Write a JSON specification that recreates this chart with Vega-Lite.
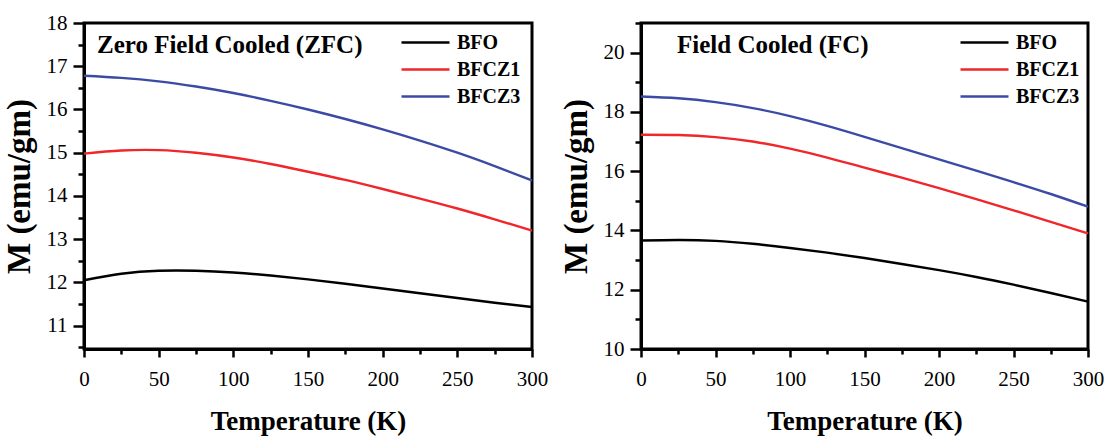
{
  "$schema": "https://vega.github.io/schema/vega-lite/v6.json",
  "background": "white",
  "padding": {"left": 1, "top": 10, "right": 0, "bottom": 0},
  "spacing": 8,
  "datasets": {
    "zfc": [
      {"T": 0, "M": 12.05, "Sample": "BFO"}, {"T": 25, "M": 12.2, "Sample": "BFO"}, {"T": 50, "M": 12.27, "Sample": "BFO"}, {"T": 75, "M": 12.27, "Sample": "BFO"}, {"T": 100, "M": 12.23, "Sample": "BFO"}, {"T": 125, "M": 12.16, "Sample": "BFO"}, {"T": 150, "M": 12.07, "Sample": "BFO"}, {"T": 175, "M": 11.97, "Sample": "BFO"}, {"T": 200, "M": 11.86, "Sample": "BFO"}, {"T": 225, "M": 11.75, "Sample": "BFO"}, {"T": 250, "M": 11.64, "Sample": "BFO"}, {"T": 275, "M": 11.53, "Sample": "BFO"}, {"T": 300, "M": 11.43, "Sample": "BFO"},
      {"T": 0, "M": 14.98, "Sample": "BFCZ1"}, {"T": 25, "M": 15.05, "Sample": "BFCZ1"}, {"T": 50, "M": 15.06, "Sample": "BFCZ1"}, {"T": 75, "M": 15.0, "Sample": "BFCZ1"}, {"T": 100, "M": 14.89, "Sample": "BFCZ1"}, {"T": 125, "M": 14.74, "Sample": "BFCZ1"}, {"T": 150, "M": 14.56, "Sample": "BFCZ1"}, {"T": 175, "M": 14.37, "Sample": "BFCZ1"}, {"T": 200, "M": 14.16, "Sample": "BFCZ1"}, {"T": 225, "M": 13.94, "Sample": "BFCZ1"}, {"T": 250, "M": 13.71, "Sample": "BFCZ1"}, {"T": 275, "M": 13.46, "Sample": "BFCZ1"}, {"T": 300, "M": 13.2, "Sample": "BFCZ1"},
      {"T": 0, "M": 16.78, "Sample": "BFCZ3"}, {"T": 25, "M": 16.73, "Sample": "BFCZ3"}, {"T": 50, "M": 16.65, "Sample": "BFCZ3"}, {"T": 75, "M": 16.53, "Sample": "BFCZ3"}, {"T": 100, "M": 16.38, "Sample": "BFCZ3"}, {"T": 125, "M": 16.2, "Sample": "BFCZ3"}, {"T": 150, "M": 16.0, "Sample": "BFCZ3"}, {"T": 175, "M": 15.78, "Sample": "BFCZ3"}, {"T": 200, "M": 15.54, "Sample": "BFCZ3"}, {"T": 225, "M": 15.28, "Sample": "BFCZ3"}, {"T": 250, "M": 15.0, "Sample": "BFCZ3"}, {"T": 275, "M": 14.69, "Sample": "BFCZ3"}, {"T": 300, "M": 14.36, "Sample": "BFCZ3"}
    ],
    "fc": [
      {"T": 0, "M": 13.66, "Sample": "BFO"}, {"T": 25, "M": 13.68, "Sample": "BFO"}, {"T": 50, "M": 13.65, "Sample": "BFO"}, {"T": 75, "M": 13.55, "Sample": "BFO"}, {"T": 100, "M": 13.41, "Sample": "BFO"}, {"T": 125, "M": 13.25, "Sample": "BFO"}, {"T": 150, "M": 13.07, "Sample": "BFO"}, {"T": 175, "M": 12.87, "Sample": "BFO"}, {"T": 200, "M": 12.66, "Sample": "BFO"}, {"T": 225, "M": 12.43, "Sample": "BFO"}, {"T": 250, "M": 12.17, "Sample": "BFO"}, {"T": 275, "M": 11.89, "Sample": "BFO"}, {"T": 300, "M": 11.6, "Sample": "BFO"},
      {"T": 0, "M": 17.23, "Sample": "BFCZ1"}, {"T": 25, "M": 17.22, "Sample": "BFCZ1"}, {"T": 50, "M": 17.15, "Sample": "BFCZ1"}, {"T": 75, "M": 17.0, "Sample": "BFCZ1"}, {"T": 100, "M": 16.76, "Sample": "BFCZ1"}, {"T": 125, "M": 16.46, "Sample": "BFCZ1"}, {"T": 150, "M": 16.12, "Sample": "BFCZ1"}, {"T": 175, "M": 15.78, "Sample": "BFCZ1"}, {"T": 200, "M": 15.43, "Sample": "BFCZ1"}, {"T": 225, "M": 15.06, "Sample": "BFCZ1"}, {"T": 250, "M": 14.68, "Sample": "BFCZ1"}, {"T": 275, "M": 14.29, "Sample": "BFCZ1"}, {"T": 300, "M": 13.9, "Sample": "BFCZ1"},
      {"T": 0, "M": 18.52, "Sample": "BFCZ3"}, {"T": 25, "M": 18.46, "Sample": "BFCZ3"}, {"T": 50, "M": 18.33, "Sample": "BFCZ3"}, {"T": 75, "M": 18.13, "Sample": "BFCZ3"}, {"T": 100, "M": 17.86, "Sample": "BFCZ3"}, {"T": 125, "M": 17.53, "Sample": "BFCZ3"}, {"T": 150, "M": 17.16, "Sample": "BFCZ3"}, {"T": 175, "M": 16.78, "Sample": "BFCZ3"}, {"T": 200, "M": 16.4, "Sample": "BFCZ3"}, {"T": 225, "M": 16.02, "Sample": "BFCZ3"}, {"T": 250, "M": 15.63, "Sample": "BFCZ3"}, {"T": 275, "M": 15.23, "Sample": "BFCZ3"}, {"T": 300, "M": 14.8, "Sample": "BFCZ3"}
    ]
  },
  "config": {
    "font": "Liberation Serif",
    "view": {"stroke": "black", "strokeWidth": 3},
    "axis": {
      "grid": false,
      "labelOverlap": false,
      "labelFlush": false,
      "tickCount": 100,
      "domainColor": "black",
      "domainWidth": 3,
      "tickColor": "black",
      "tickWidth": 2.5,
      "labelFont": "Liberation Serif",
      "labelFontSize": 21,
      "labelColor": "black",
      "titleFont": "Liberation Serif",
      "titleFontSize": 27,
      "titleFontWeight": "bold",
      "titleColor": "black"
    },
    "legend": {
      "orient": "none",
      "title": null,
      "symbolType": "M-2.4,0H2.4",
      "symbolSize": 400,
      "symbolStrokeWidth": 2.5,
      "symbolFillColor": "transparent",
      "labelFont": "Liberation Serif",
      "labelFontSize": 20,
      "labelFontWeight": "bold",
      "labelColor": "black",
      "labelOffset": 20,
      "rowPadding": 5
    }
  },
  "resolve": {"scale": {"color": "independent"}, "legend": {"color": "independent"}},
  "hconcat": [
    {
      "width": 448,
      "height": 326,
      "layer": [
        {
          "data": {"name": "zfc"},
          "mark": {"type": "line", "strokeWidth": 2.4, "interpolate": "natural"},
          "encoding": {
            "x": {
              "field": "T", "type": "quantitative",
              "scale": {"domain": [0, 300], "nice": false},
              "axis": {
                "title": "Temperature (K)",
                "values": [0, 25, 50, 75, 100, 125, 150, 175, 200, 225, 250, 275, 300],
                "labelExpr": "datum.value % 50 === 0 ? format(datum.value, 'd') : ''",
                "tickSize": {"condition": {"test": "datum.value % 50 === 0", "value": 8}, "value": 5},
                "labelPadding": 11,
                "titlePadding": 19
              }
            },
            "y": {
              "field": "M", "type": "quantitative",
              "scale": {"domain": [10.46, 18], "nice": false, "zero": false},
              "axis": {
                "title": "M (emu/gm)",
                "titleFontSize": 33,
                "values": [10.5, 11, 11.5, 12, 12.5, 13, 13.5, 14, 14.5, 15, 15.5, 16, 16.5, 17, 17.5, 18],
                "labelExpr": "abs(datum.value - round(datum.value)) < 0.01 ? format(datum.value, 'd') : ''",
                "tickSize": {"condition": {"test": "abs(datum.value - round(datum.value)) < 0.01", "value": 11}, "value": 6},
                "labelPadding": 6,
                "titlePadding": 10
              }
            },
            "color": {
              "field": "Sample", "type": "nominal",
              "scale": {"domain": ["BFO", "BFCZ1", "BFCZ3"], "range": ["#000000", "#f0262b", "#3b4ba5"]},
              "legend": {"legendX": 330, "legendY": 8}
            }
          }
        },
        {
          "data": {"values": [{}]},
          "mark": {"type": "text", "align": "left", "baseline": "middle", "font": "Liberation Serif", "fontSize": 25, "fontWeight": "bold", "color": "black"},
          "encoding": {
            "x": {"datum": 8.7, "type": "quantitative"},
            "y": {"datum": 17.49, "type": "quantitative"},
            "text": {"value": "Zero Field Cooled (ZFC)"}
          }
        }
      ]
    },
    {
      "width": 447,
      "height": 326,
      "layer": [
        {
          "data": {"name": "fc"},
          "mark": {"type": "line", "strokeWidth": 2.4, "interpolate": "natural"},
          "encoding": {
            "x": {
              "field": "T", "type": "quantitative",
              "scale": {"domain": [0, 300], "nice": false},
              "axis": {
                "title": "Temperature (K)",
                "values": [0, 25, 50, 75, 100, 125, 150, 175, 200, 225, 250, 275, 300],
                "labelExpr": "datum.value % 50 === 0 ? format(datum.value, 'd') : ''",
                "tickSize": {"condition": {"test": "datum.value % 50 === 0", "value": 8}, "value": 5},
                "labelPadding": 11,
                "titlePadding": 19
              }
            },
            "y": {
              "field": "M", "type": "quantitative",
              "scale": {"domain": [10, 21], "nice": false, "zero": false},
              "axis": {
                "title": "M (emu/gm)",
                "titleFontSize": 33,
                "values": [10, 11, 12, 13, 14, 15, 16, 17, 18, 19, 20, 21],
                "labelExpr": "datum.value % 2 === 0 ? format(datum.value, 'd') : ''",
                "tickSize": {"condition": {"test": "datum.value % 2 === 0", "value": 11}, "value": 6},
                "labelPadding": 6,
                "titlePadding": 10
              }
            },
            "color": {
              "field": "Sample", "type": "nominal",
              "scale": {"domain": ["BFO", "BFCZ1", "BFCZ3"], "range": ["#000000", "#f0262b", "#3b4ba5"]},
              "legend": {"legendX": 332, "legendY": 8}
            }
          }
        },
        {
          "data": {"values": [{}]},
          "mark": {"type": "text", "align": "left", "baseline": "middle", "font": "Liberation Serif", "fontSize": 25, "fontWeight": "bold", "color": "black"},
          "encoding": {
            "x": {"datum": 24.2, "type": "quantitative"},
            "y": {"datum": 20.26, "type": "quantitative"},
            "text": {"value": "Field Cooled (FC)"}
          }
        }
      ]
    }
  ]
}
